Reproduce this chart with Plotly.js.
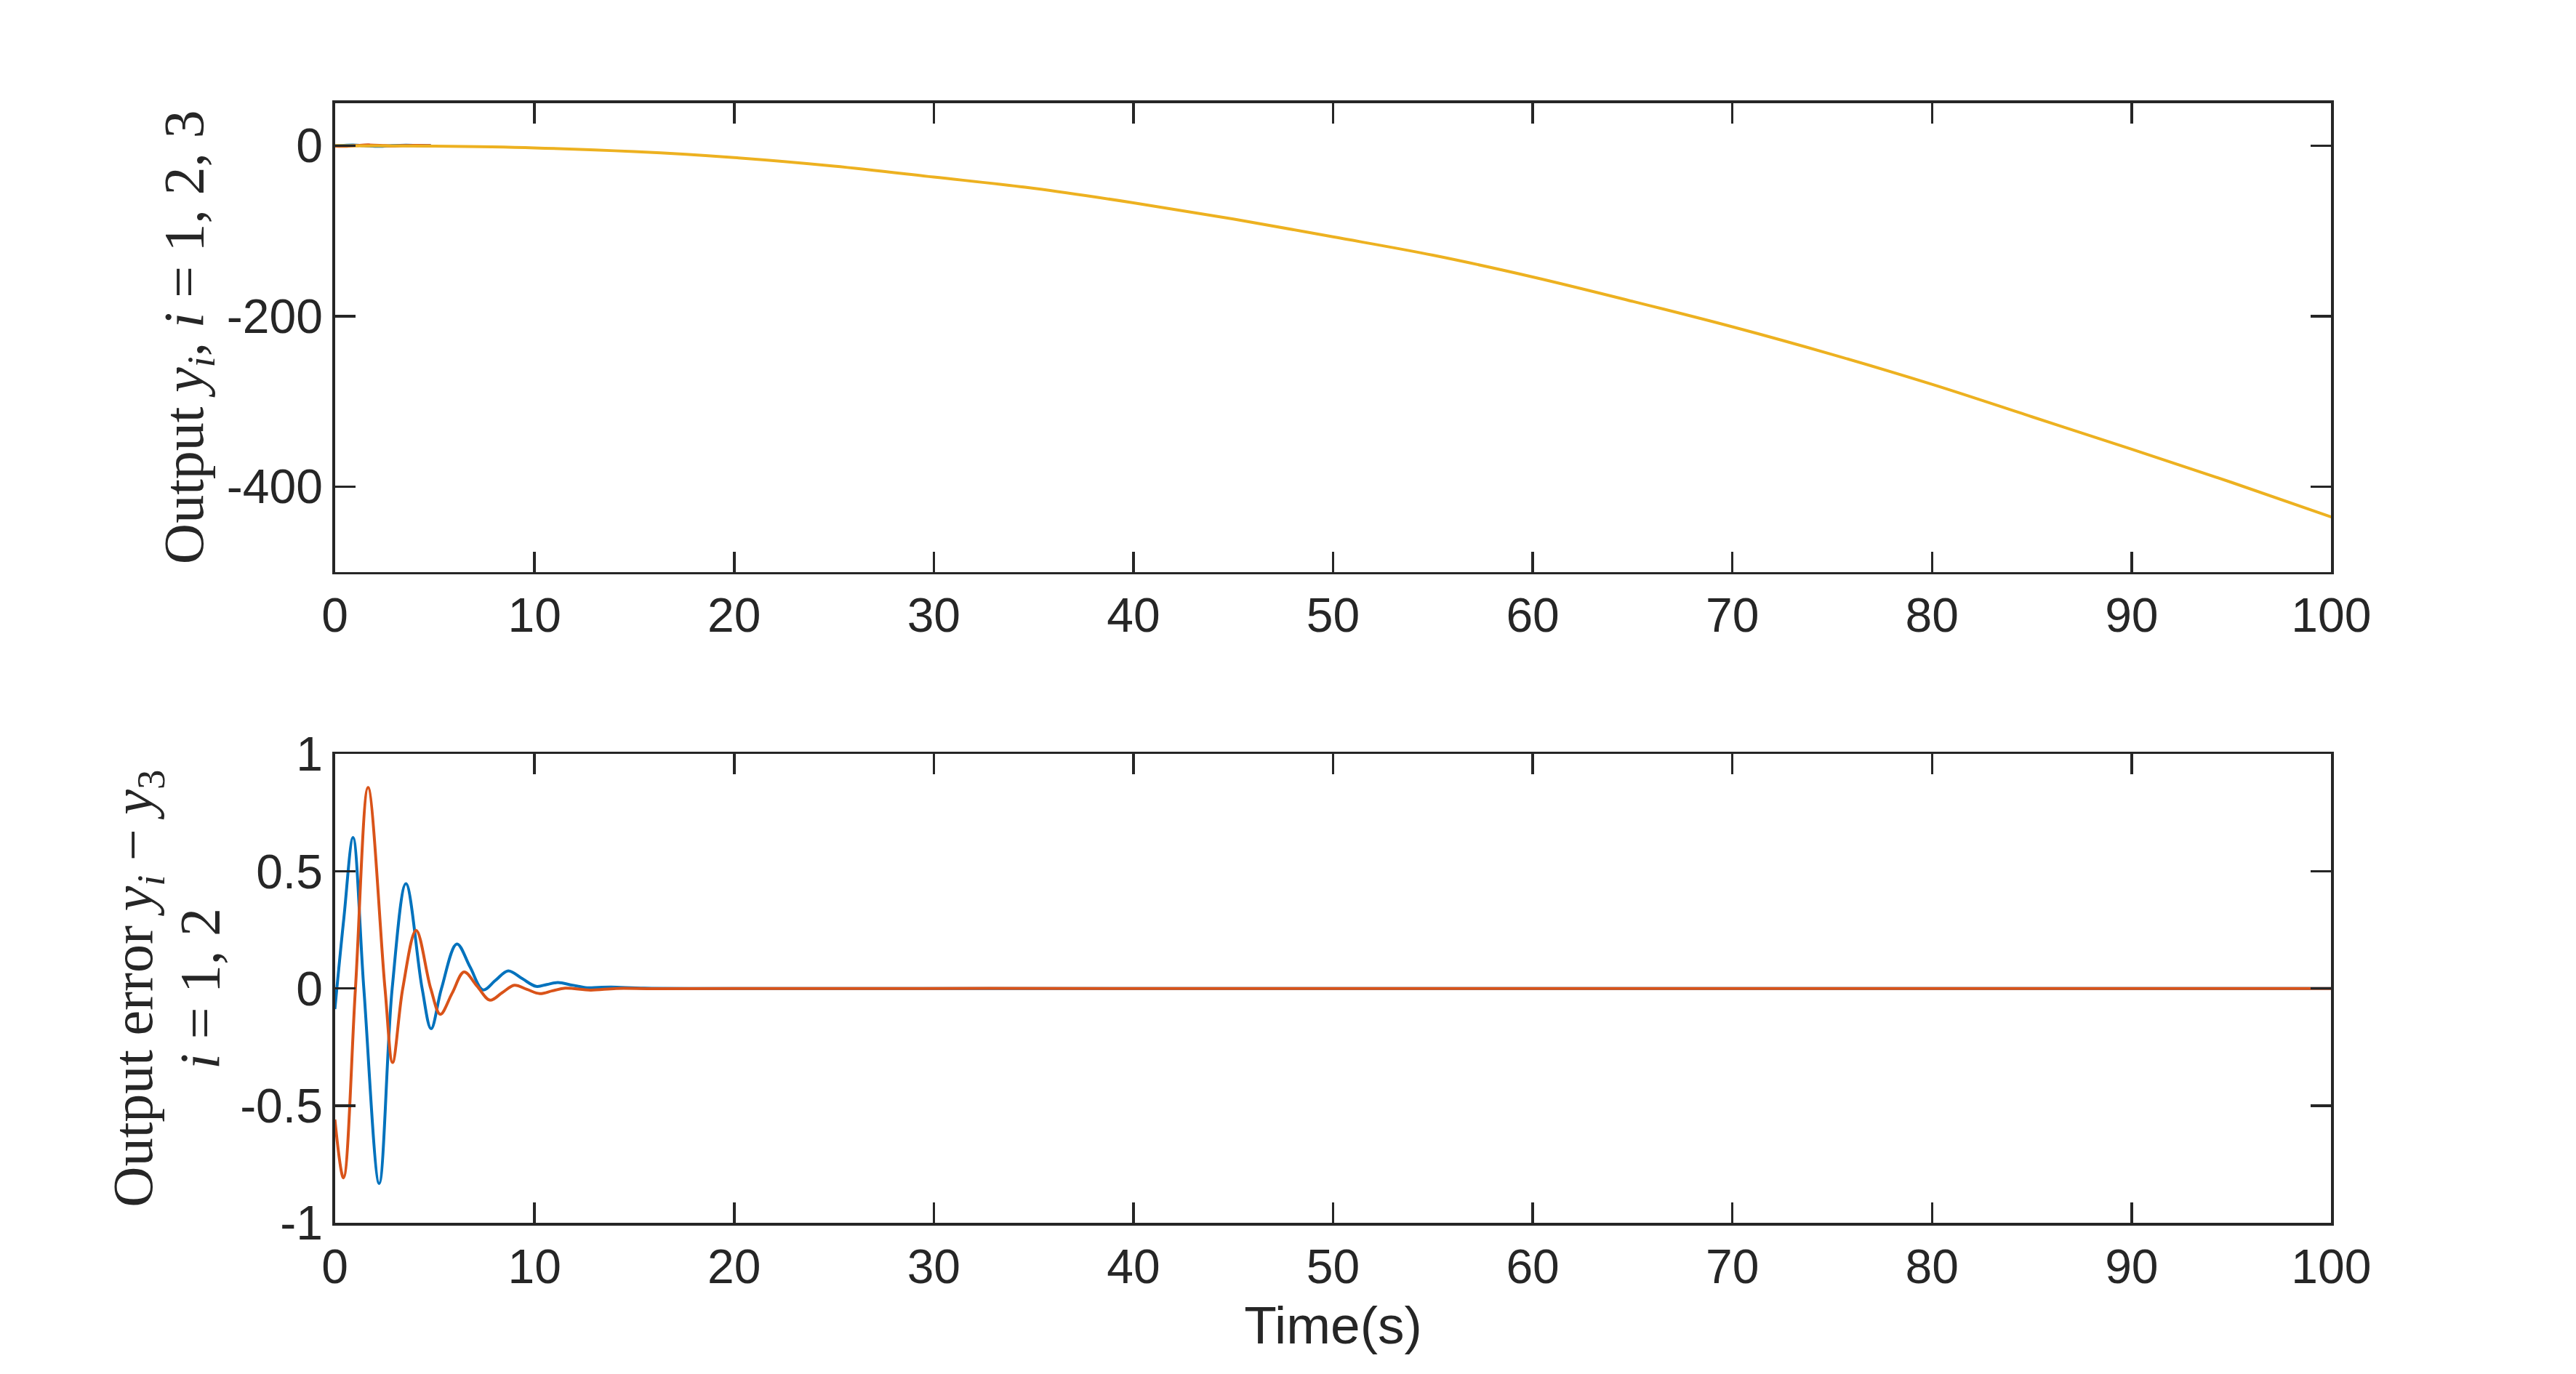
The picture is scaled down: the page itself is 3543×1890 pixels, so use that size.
<!DOCTYPE html>
<html>
<head>
<meta charset="utf-8">
<script src="https://cdn.plot.ly/plotly-3.0.1.min.js"></script>
<style>
  html, body { margin: 0; padding: 0; background: #fff; }
  #chart { width: 3543px; height: 1890px; }
</style>
</head>
<body>
<div id="chart"></div>
<script>
// output y3 (top plot), every 5 s
var tOut = [0, 5, 10, 15, 20, 25, 30, 35, 40, 45, 50, 55, 60, 65, 70, 75, 80, 85, 90, 95, 100];
var y3 = [0, -0.6, -2.6, -7, -14, -24, -36.8, -50, -67, -86, -107, -128.5, -154, -182.6, -212.5, -245, -280, -318, -356, -395, -435.6];

// output error y1 - y3 (blue)
var tErr1 = [0, 0.45, 0.91, 1.45, 2.22, 2.87, 3.56, 4.37, 4.82, 5.34, 6.11, 6.77, 7.42, 8.05, 8.68, 9.38, 10.08, 10.62, 11.17, 11.9, 12.63, 13.2, 13.84, 15.5, 20, 40, 60, 80, 100];
var err1 = [-0.088, 0.30, 0.644, 0, -0.832, 0, 0.447, 0, -0.172, 0, 0.190, 0.092, -0.006, 0.035, 0.075, 0.042, 0.009, 0.017, 0.025, 0.014, 0.003, 0.0045, 0.006, 0.001, 0, 0, 0, 0, 0];

// output error y2 - y3 (orange)
var tErr2 = [0, 0.43, 1.03, 1.66, 2.51, 2.89, 3.4, 4.07, 4.8, 5.28, 5.875, 6.47, 7.12, 7.77, 8.38, 8.99, 9.62, 10.26, 10.9, 11.54, 12.81, 14.09, 16, 20, 40, 60, 80, 100];
var err2 = [-0.559, -0.808, 0, 0.857, 0, -0.316, 0, 0.248, 0, -0.110, -0.02, 0.070, 0.01, -0.050, -0.018, 0.0135, -0.004, -0.022, -0.01, 0.001, -0.007, 0, -0.001, 0, 0, 0, 0, 0];

var xTicks = [0, 10, 20, 30, 40, 50, 60, 70, 80, 90, 100];
var yTopTicks = [-400, -200, 0];
var yTopText = ['-400', '-200', '0'];
var yBotTicks = [-1, -0.5, 0, 0.5, 1];
var yBotText = ['-1', '-0.5', '0', '0.5', '1'];

var blue = '#0072BD', orange = '#D95319', yellow = '#EDB120', ink = '#262626';

// first seconds of y1, y2 in the top plot (y3 is ~0 there)
var nEarly = 9;

var data = [
  { x: tErr1.slice(0, nEarly), y: err1.slice(0, nEarly), xaxis: 'x', yaxis: 'y', mode: 'lines',
    line: { color: blue, width: 4, shape: 'spline' } },
  { x: tErr2.slice(0, nEarly), y: err2.slice(0, nEarly), xaxis: 'x', yaxis: 'y', mode: 'lines',
    line: { color: orange, width: 4, shape: 'spline' } },
  { x: tOut, y: y3, xaxis: 'x', yaxis: 'y', mode: 'lines',
    line: { color: yellow, width: 4, shape: 'spline' } },
  { x: tErr1, y: err1, xaxis: 'x2', yaxis: 'y2', mode: 'lines',
    line: { color: blue, width: 4, shape: 'spline' } },
  { x: tErr2, y: err2, xaxis: 'x2', yaxis: 'y2', mode: 'lines',
    line: { color: orange, width: 4, shape: 'spline' } }
];

var tickFont = { family: 'Liberation Sans, Arial, sans-serif', size: 66, color: ink };

function axisStyle(extra) {
  var a = {
    showline: true, mirror: 'ticks', linecolor: ink, linewidth: 3.5,
    ticks: 'inside', ticklen: 28, tickwidth: 3.5, tickcolor: ink,
    tickfont: tickFont, showgrid: false, zeroline: false, fixedrange: true
  };
  for (var k in extra) a[k] = extra[k];
  return a;
}

var serif = 'Liberation Serif, Times New Roman, serif';

var layout = {
  width: 3543, height: 1890,
  margin: { l: 0, r: 0, t: 0, b: 0 },
  paper_bgcolor: '#fff', plot_bgcolor: '#fff',
  showlegend: false,
  xaxis: axisStyle({ domain: [0.13, 0.905], anchor: 'y', range: [0, 100], tickvals: xTicks }),
  yaxis: axisStyle({ domain: [0.5838, 0.925], anchor: 'x', range: [-500, 50],
    tickvals: yTopTicks, ticktext: yTopText }),
  xaxis2: axisStyle({ domain: [0.13, 0.905], anchor: 'y2', range: [0, 100], tickvals: xTicks,
    title: { text: 'Time(s)', font: { family: 'Liberation Sans, Arial, sans-serif', size: 73, color: ink }, standoff: 20 } }),
  yaxis2: axisStyle({ domain: [0.11, 0.4512], anchor: 'x2', range: [-1, 1],
    tickvals: yBotTicks, ticktext: yBotText }),
  annotations: [
    { text: 'Output <i>y<sub>i</sub></i>, <i>i</i> = 1, 2, 3', textangle: -90,
      xref: 'paper', yref: 'paper', x: 258 / 3543, y: (0.5838 + 0.925) / 2,
      xanchor: 'center', yanchor: 'middle', showarrow: false,
      font: { family: serif, size: 78, color: ink } },
    { text: 'Output error <i>y<sub>i</sub></i> \u2212 <i>y</i><sub>3</sub>', textangle: -90,
      xref: 'paper', yref: 'paper', x: 188 / 3543, y: (0.11 + 0.4512) / 2,
      xanchor: 'center', yanchor: 'middle', showarrow: false,
      font: { family: serif, size: 78, color: ink } },
    { text: '<i>i</i> = 1, 2', textangle: -90,
      xref: 'paper', yref: 'paper', x: 275 / 3543, y: (0.11 + 0.4512) / 2,
      xanchor: 'center', yanchor: 'middle', showarrow: false,
      font: { family: serif, size: 78, color: ink } }
  ]
};

Plotly.newPlot('chart', data, layout, { displayModeBar: false, staticPlot: true });
</script>
</body>
</html>
